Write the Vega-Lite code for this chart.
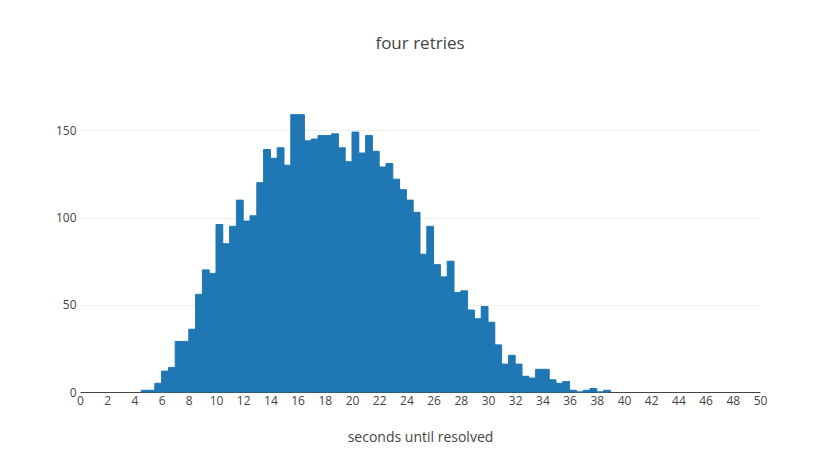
{
  "$schema": "https://vega.github.io/schema/vega-lite/v6.json",
  "width": 680,
  "height": 292,
  "autosize": {"type": "none"},
  "padding": {"left": 80, "top": 100, "right": 80, "bottom": 79},
  "background": "white",
  "title": {"text": "four retries", "font": "Open Sans", "fontSize": 17, "fontWeight": "normal", "color": "#444", "anchor": "middle", "offset": 47},
  "data": {"values": [
    {"start": 4.5, "end": 5.0, "count": 1},
    {"start": 5.0, "end": 5.5, "count": 1},
    {"start": 5.5, "end": 6.0, "count": 5},
    {"start": 6.0, "end": 6.5, "count": 12},
    {"start": 6.5, "end": 7.0, "count": 14},
    {"start": 7.0, "end": 7.5, "count": 29},
    {"start": 7.5, "end": 8.0, "count": 29},
    {"start": 8.0, "end": 8.5, "count": 36},
    {"start": 8.5, "end": 9.0, "count": 56},
    {"start": 9.0, "end": 9.5, "count": 70},
    {"start": 9.5, "end": 10.0, "count": 68},
    {"start": 10.0, "end": 10.5, "count": 96},
    {"start": 10.5, "end": 11.0, "count": 85},
    {"start": 11.0, "end": 11.5, "count": 95},
    {"start": 11.5, "end": 12.0, "count": 110},
    {"start": 12.0, "end": 12.5, "count": 98},
    {"start": 12.5, "end": 13.0, "count": 101},
    {"start": 13.0, "end": 13.5, "count": 120},
    {"start": 13.5, "end": 14.0, "count": 139},
    {"start": 14.0, "end": 14.5, "count": 134},
    {"start": 14.5, "end": 15.0, "count": 140},
    {"start": 15.0, "end": 15.5, "count": 130},
    {"start": 15.5, "end": 16.0, "count": 159},
    {"start": 16.0, "end": 16.5, "count": 159},
    {"start": 16.5, "end": 17.0, "count": 144},
    {"start": 17.0, "end": 17.5, "count": 145},
    {"start": 17.5, "end": 18.0, "count": 147},
    {"start": 18.0, "end": 18.5, "count": 147},
    {"start": 18.5, "end": 19.0, "count": 148},
    {"start": 19.0, "end": 19.5, "count": 140},
    {"start": 19.5, "end": 20.0, "count": 132},
    {"start": 20.0, "end": 20.5, "count": 149},
    {"start": 20.5, "end": 21.0, "count": 137},
    {"start": 21.0, "end": 21.5, "count": 147},
    {"start": 21.5, "end": 22.0, "count": 138},
    {"start": 22.0, "end": 22.5, "count": 129},
    {"start": 22.5, "end": 23.0, "count": 131},
    {"start": 23.0, "end": 23.5, "count": 122},
    {"start": 23.5, "end": 24.0, "count": 116},
    {"start": 24.0, "end": 24.5, "count": 110},
    {"start": 24.5, "end": 25.0, "count": 103},
    {"start": 25.0, "end": 25.5, "count": 79},
    {"start": 25.5, "end": 26.0, "count": 95},
    {"start": 26.0, "end": 26.5, "count": 73},
    {"start": 26.5, "end": 27.0, "count": 66},
    {"start": 27.0, "end": 27.5, "count": 75},
    {"start": 27.5, "end": 28.0, "count": 57},
    {"start": 28.0, "end": 28.5, "count": 58},
    {"start": 28.5, "end": 29.0, "count": 47},
    {"start": 29.0, "end": 29.5, "count": 42},
    {"start": 29.5, "end": 30.0, "count": 49},
    {"start": 30.0, "end": 30.5, "count": 40},
    {"start": 30.5, "end": 31.0, "count": 27},
    {"start": 31.0, "end": 31.5, "count": 16},
    {"start": 31.5, "end": 32.0, "count": 21},
    {"start": 32.0, "end": 32.5, "count": 16},
    {"start": 32.5, "end": 33.0, "count": 9},
    {"start": 33.0, "end": 33.5, "count": 8},
    {"start": 33.5, "end": 34.0, "count": 13},
    {"start": 34.0, "end": 34.5, "count": 13},
    {"start": 34.5, "end": 35.0, "count": 7},
    {"start": 35.0, "end": 35.5, "count": 5},
    {"start": 35.5, "end": 36.0, "count": 6},
    {"start": 36.0, "end": 36.5, "count": 1},
    {"start": 36.5, "end": 37.0, "count": 0},
    {"start": 37.0, "end": 37.5, "count": 1},
    {"start": 37.5, "end": 38.0, "count": 2},
    {"start": 38.0, "end": 38.5, "count": 0},
    {"start": 38.5, "end": 39.0, "count": 1}
  ]},
  "mark": {"type": "bar", "color": "#1f77b4", "binSpacing": 0, "stroke": "#1f77b4", "strokeWidth": 1},
  "encoding": {
    "x": {
      "field": "start", "type": "quantitative",
      "scale": {"domain": [0, 50], "nice": false, "zero": false},
      "axis": {
        "title": "seconds until resolved",
        "titleFont": "Open Sans", "titleFontSize": 14, "titleFontWeight": "normal", "titleColor": "#444", "titlePadding": 24,
        "values": [0,2,4,6,8,10,12,14,16,18,20,22,24,26,28,30,32,34,36,38,40,42,44,46,48,50],
        "labelFont": "Open Sans", "labelFontSize": 12, "labelColor": "#444", "labelPadding": 3,
        "ticks": false, "grid": false, "domainColor": "#444", "domainWidth": 1, "labelFlush": false, "labelOverlap": false
      }
    },
    "x2": {"field": "end"},
    "y": {
      "field": "count", "type": "quantitative",
      "scale": {"domain": [0, 167.4], "nice": false},
      "axis": {
        "title": null,
        "values": [0, 50, 100, 150],
        "labelFont": "Open Sans", "labelFontSize": 12, "labelColor": "#444", "labelPadding": 4,
        "ticks": false, "domain": false, "grid": true, "gridColor": "#eee", "gridWidth": 1, "labelFlush": false
      }
    },
    "y2": {"datum": 0}
  },
  "config": {"view": {"stroke": null}}
}
